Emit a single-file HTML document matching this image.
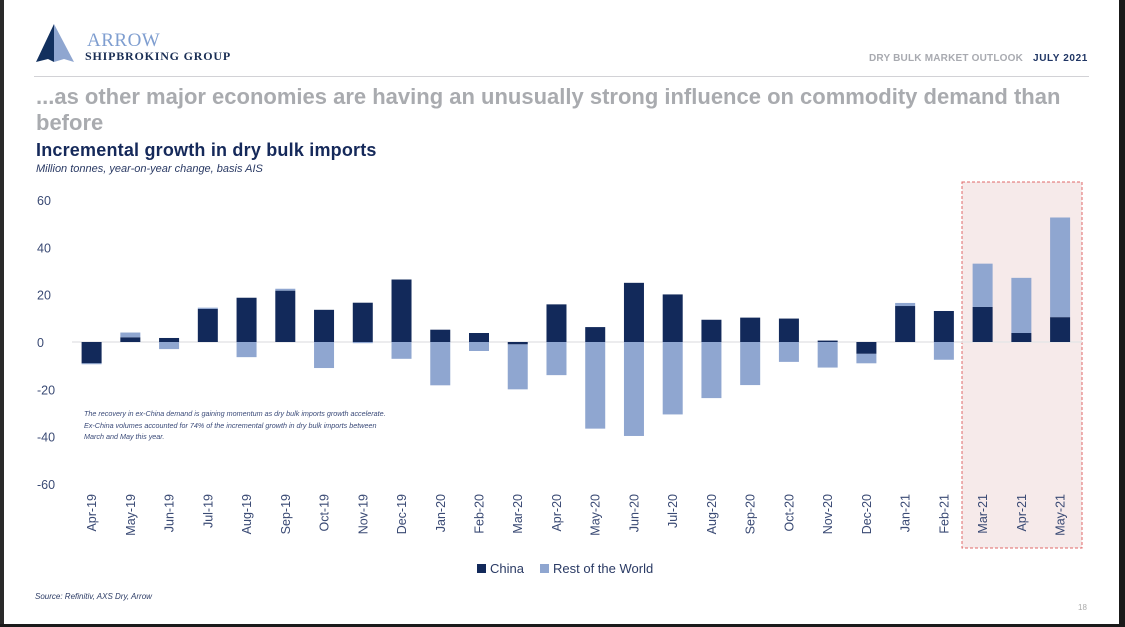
<!DOCTYPE html>
<html><head><meta charset="utf-8"><style>
body{margin:0;width:1125px;height:627px;overflow:hidden;background:#fff;font-family:"Liberation Sans",sans-serif;position:relative}
.abs{position:absolute}
</style></head><body>
<div class="abs" style="left:0;top:0;width:4px;height:627px;background:#2a2a2a"></div>
<div class="abs" style="left:1119px;top:0;width:6px;height:627px;background:#1a1a1a"></div>
<div class="abs" style="left:0;top:624px;width:1125px;height:3px;background:#1a1a1a"></div>
<svg class="abs" style="left:34px;top:22px" width="42" height="42" viewBox="0 0 42 42">
<polygon points="20,2 2,40 14,37 20,40" fill="#12305e"/>
<polygon points="20,2 40,40 30,37 20,40" fill="#8fa6d0"/>
</svg>
<div class="abs" style="left:87px;top:30px;font-family:'Liberation Serif',serif;font-size:19px;color:#7f9ed0;letter-spacing:0.5px">ARROW</div>
<div class="abs" style="left:85px;top:49px;font-family:'Liberation Serif',serif;font-size:12px;color:#1b2f55;letter-spacing:0.8px;font-weight:bold">SHIPBROKING GROUP</div>
<div class="abs" style="left:869px;top:53px;font-size:10px;font-weight:bold;color:#a8aab0;letter-spacing:0.2px">DRY BULK MARKET OUTLOOK <span style="color:#1f3564;margin-left:7px;letter-spacing:0.6px">JULY 2021</span></div>
<div class="abs" style="left:34px;top:76px;width:1055px;height:1px;background:#d2d2d6"></div>
<div class="abs" style="left:36px;top:84px;width:1070px;font-size:22px;font-weight:bold;color:#a9abaf;line-height:26px;letter-spacing:0px">...as other major economies are having an unusually strong influence on commodity demand than before</div>
<div class="abs" style="left:36px;top:140px;font-size:18px;font-weight:bold;color:#15295a;letter-spacing:0.2px">Incremental growth in dry bulk imports</div>
<div class="abs" style="left:36px;top:163px;font-size:11px;font-style:italic;color:#2a3a64">Million tonnes, year-on-year change, basis AIS</div>
<svg class="abs" id="chart" style="left:0;top:0" width="1125" height="627"></svg>
<div class="abs" style="left:84px;top:408px;width:305px;font-size:7.2px;font-style:italic;color:#3a4a78;line-height:11.5px">The recovery in ex-China demand is gaining momentum as dry bulk imports growth accelerate. Ex-China volumes accounted for 74% of the incremental growth in dry bulk imports between March and May this year.</div>
<div class="abs" style="left:477px;top:561px;font-size:13px;color:#2a3a64"><span style="display:inline-block;width:9px;height:9px;background:#12295a;margin-right:4px"></span>China</div>
<div class="abs" style="left:540px;top:561px;font-size:13px;color:#2a3a64"><span style="display:inline-block;width:9px;height:9px;background:#8fa6d0;margin-right:4px"></span>Rest of the World</div>
<div class="abs" style="left:35px;top:592px;font-size:8px;font-style:italic;color:#2a3a64">Source: Refinitiv, AXS Dry, Arrow</div>
<div class="abs" style="left:1078px;top:603px;font-size:8px;color:#aaa">18</div>
<script>
const categories=["Apr-19","May-19","Jun-19","Jul-19","Aug-19","Sep-19","Oct-19","Nov-19","Dec-19","Jan-20","Feb-20","Mar-20","Apr-20","May-20","Jun-20","Jul-20","Aug-20","Sep-20","Oct-20","Nov-20","Dec-20","Jan-21","Feb-21","Mar-21","Apr-21","May-21"];
const china=[-9,2,1.7,14,18.7,21.7,13.6,16.6,26.4,5.2,3.8,-1,15.9,6.3,25,20.1,9.4,10.3,9.9,0.6,-5,15.2,13.1,14.8,3.8,10.5];
const rest=[-0.4,2,-3,0.5,-6.4,0.8,-11,-0.5,-7.1,-18.3,-3.8,-19,-14,-36.6,-39.7,-30.6,-23.7,-18.2,-8.4,-10.8,-4,1.3,-7.5,18.3,23.3,42.1];
const yTicks=[60,40,20,0,-20,-40,-60];
const svg=document.getElementById('chart');
const NS='http://www.w3.org/2000/svg';
const y0=342,unit=2.367,x0=91.6,step=38.74,bw=20;
const Y=v=>y0-v*unit, X=i=>x0+i*step;
function mk(t,a){const e=document.createElementNS(NS,t);for(const k in a)e.setAttribute(k,a[k]);svg.appendChild(e);return e;}
const hb=mk('rect',{x:962,y:182,width:120,height:366,fill:'#f6eaea',stroke:'#e06868','stroke-width':1,'stroke-dasharray':'3,2'});


yTicks.forEach(v=>{const t=mk('text',{x:37,y:Y(v)+5,'font-size':12.5,fill:'#3a4a74','font-family':'Liberation Sans'});t.textContent=v;

});
const zl=mk('line',{x1:72,x2:1082,y1:Y(0),y2:Y(0),stroke:'#e6e6e8','stroke-width':1.5});


categories.forEach((c,i)=>{
 const cx=X(i);const cv=china[i],rv=rest[i];
 let ct,ch;if(cv>=0){ct=Y(cv);ch=Y(0)-Y(cv);}else{ct=Y(0);ch=Y(cv)-Y(0);}
 const rc=mk('rect',{x:cx-bw/2,y:ct,width:bw,height:ch,fill:'#12295a'});
 
 
 let base=(rv>=0)===(cv>=0)?cv:0;let a=base,b=base+rv;
 const rr=mk('rect',{x:cx-bw/2,y:Math.min(Y(a),Y(b)),width:bw,height:Math.abs(Y(a)-Y(b)),fill:'#8fa6d0'});
 
 
 const t=mk('text',{x:0,y:0,'font-size':12.5,fill:'#3a4a74','font-family':'Liberation Sans','text-anchor':'end',transform:`translate(${cx+4.5},494) rotate(-90)`});
 t.textContent=c;
 
 
});
</script>
</body></html>
